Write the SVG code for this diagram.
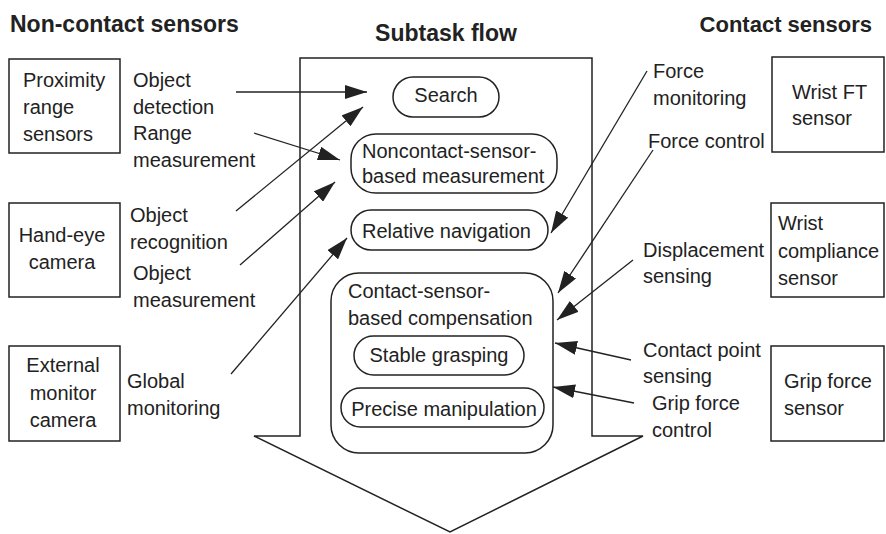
<svg xmlns="http://www.w3.org/2000/svg" width="886" height="534" viewBox="0 0 886 534">
<style>
text{font-family:"Liberation Sans",Arial,sans-serif;font-size:20px;fill:#222}
.h{font-weight:bold;font-size:23px}
.box{fill:none;stroke:#222;stroke-width:1.5}
.c{text-anchor:middle}
.ln{stroke:#222;stroke-width:1.3;fill:none;marker-end:url(#ah)}
</style>
<defs>
<marker id="ah" markerUnits="userSpaceOnUse" markerWidth="22" markerHeight="14" refX="22" refY="7" orient="auto">
<path d="M0,0 L22,7 L0,14 z" fill="#222"/>
</marker>
</defs>
<rect width="886" height="534" fill="#fff"/>
<text class="h" x="10" y="32">Non-contact sensors</text>
<text class="h c" x="446" y="41">Subtask flow</text>
<text class="h" x="872" y="32" style="text-anchor:end;font-size:22px">Contact sensors</text>

<g id="flow-arrow"><path class="box" d="M300,58 L592,58 L592,436 L643,436 L450,532 L254,436 L300,436 Z"/></g>

<g id="proximity"><rect class="box" x="9" y="59" width="111" height="94"/>
<text x="23" y="87">Proximity</text><text x="23" y="114">range</text><text x="23" y="141">sensors</text></g>
<g id="handeye"><rect class="box" x="9" y="203" width="111" height="94"/>
<text class="c" x="62" y="242">Hand-eye</text><text class="c" x="62" y="269">camera</text></g>
<g id="external"><rect class="box" x="9" y="346" width="111" height="95"/>
<text class="c" x="63" y="372">External</text><text class="c" x="63" y="400">monitor</text><text class="c" x="63" y="427">camera</text></g>

<g id="wristft"><rect class="box" x="772" y="57" width="112" height="95"/>
<text x="792" y="99">Wrist FT</text><text x="792" y="125">sensor</text></g>
<g id="wristcomp"><rect class="box" x="771" y="203" width="113" height="94"/>
<text x="778" y="230">Wrist</text><text x="778" y="258">compliance</text><text x="778" y="285">sensor</text></g>
<g id="gripsensor"><rect class="box" x="771" y="346" width="113" height="95"/>
<text x="784" y="388">Grip force</text><text x="784" y="415">sensor</text></g>

<g id="search"><rect class="box" x="393" y="77" width="106" height="40" rx="20"/>
<text class="c" x="446" y="102">Search</text></g>
<g id="noncontact"><rect class="box" x="351" y="134" width="206" height="59" rx="25"/>
<text x="362" y="158">Noncontact-sensor-</text><text x="362" y="183">based measurement</text></g>
<g id="relnav"><rect class="box" x="351" y="210" width="197" height="40" rx="20"/>
<text x="362" y="238">Relative navigation</text></g>
<g id="contactcomp"><rect class="box" x="331" y="273" width="222" height="180" rx="28"/>
<text x="348" y="298">Contact-sensor-</text><text x="348" y="325">based compensation</text></g>
<g id="stable"><rect class="box" x="354" y="336" width="170" height="39" rx="19.5"/>
<text class="c" x="439" y="362">Stable grasping</text></g>
<g id="precise"><rect class="box" x="341" y="388" width="203" height="39" rx="19.5"/>
<text class="c" x="444" y="416">Precise manipulation</text></g>

<g id="labels">
<text x="133" y="87">Object</text><text x="133" y="114">detection</text>
<text x="133" y="140">Range</text><text x="133" y="167">measurement</text>
<text x="130" y="222">Object</text><text x="130" y="249">recognition</text>
<text x="133" y="280">Object</text><text x="133" y="307">measurement</text>
<text x="127" y="388">Global</text><text x="127" y="415">monitoring</text>
<text x="653" y="78">Force</text><text x="653" y="105">monitoring</text>
<text x="648" y="148">Force control</text>
<text x="643" y="257">Displacement</text><text x="643" y="283">sensing</text>
<text x="643" y="357">Contact point</text><text x="643" y="383">sensing</text>
<text x="652" y="410">Grip force</text><text x="652" y="437">control</text>
</g>

<g id="connectors">
<line class="ln" x1="236" y1="92" x2="367" y2="92"/>
<line class="ln" x1="254" y1="133" x2="340" y2="160"/>
<line class="ln" x1="236" y1="211" x2="363" y2="107"/>
<line class="ln" x1="240" y1="265" x2="335" y2="182"/>
<line class="ln" x1="231" y1="374" x2="347" y2="238"/>
<line class="ln" x1="647" y1="71" x2="551" y2="233"/>
<line class="ln" x1="653" y1="150" x2="558" y2="293"/>
<line class="ln" x1="633" y1="260" x2="557" y2="320"/>
<line class="ln" x1="631" y1="360" x2="555" y2="343"/>
<line class="ln" x1="634" y1="403" x2="553" y2="387"/>
</g>
</svg>
